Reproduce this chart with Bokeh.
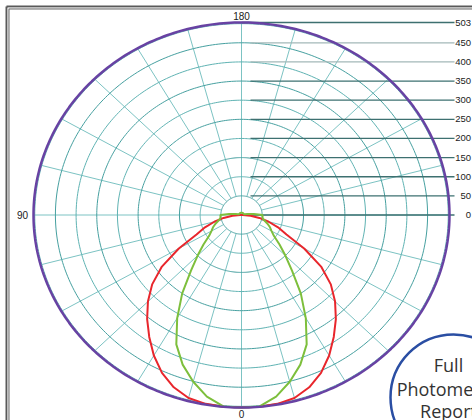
import numpy as np
from bokeh.plotting import figure
from bokeh.models import Range1d
from bokeh.core.properties import value
from bokeh.embed import file_html
from bokeh.resources import INLINE

# ---- data ----
angles_deg = [0, 5, 10, 15, 20, 25, 30, 35, 40, 45, 50, 55, 60, 65, 70, 75, 80, 85, 90,
              95, 100, 105, 110, 115, 120, 125, 130, 135, 140, 145, 150, 155, 160, 165, 170, 175, 180]
red_cd = [503, 503, 501, 495, 479, 455, 424, 389, 355, 320, 282, 235, 175, 120, 94, 68, 44, 22, 3,
          0, 0, 0, 0, 0, 0, 0, 0, 0, 0, 0, 0, 0, 0, 0, 0, 0, 0]
green_cd = [503, 502, 482, 451, 416, 373, 311, 250, 190, 150, 120, 96, 84, 76, 67, 58, 52, 51, 51,
            30, 14, 8, 6, 6, 6, 6, 6, 6, 6, 6, 6, 6, 6, 6, 6, 6, 6]
ring_values = [50, 100, 150, 200, 250, 300, 350, 400, 450, 500]
max_value = 503
scale_ticks = [503, 450, 400, 350, 300, 250, 200, 150, 100, 50, 0]
scale_labels = ["503", "450", "400", "350", "300", "250", "200", "150", "100", "50", "0"]
angle_labels = ["180", "90", "0"]
spoke_step = 15
button_lines = ["Full", "Photometric", "Report"]

# ---- geometry (screen -> data helpers) ----
CX, CY = 241.0, 214.5
KX, KY = 208.0 / max_value, 192.5 / max_value
W, H = 472, 420


def sx(px):
    return (px - CX) / KX


def sy(py):
    return (CY - py) / KY


p = figure(width=W, height=H, output_backend="svg", toolbar_location=None,
           x_range=Range1d(sx(0), sx(W)), y_range=Range1d(sy(H), sy(0)),
           min_border=0, background_fill_color="white", border_fill_color="white")
p.axis.visible = False
p.grid.visible = False
p.outline_line_color = None

# frame (top/left double line)
p.line([sx(6), sx(6)], [sy(H), sy(6)], line_color="#5a5a5a", line_width=2)
p.line([sx(6), sx(W)], [sy(6), sy(6)], line_color="#5a5a5a", line_width=2)
p.line([sx(7.5), sx(7.5)], [sy(H), sy(7.5)], line_color="#d0d0d0", line_width=1)
p.line([sx(7.5), sx(W)], [sy(7.5), sy(7.5)], line_color="#d0d0d0", line_width=1)
p.line([sx(8.5), sx(8.5)], [sy(H), sy(8.5)], line_color="#6a6a6a", line_width=1)
p.line([sx(8.5), sx(W)], [sy(8.5), sy(8.5)], line_color="#6a6a6a", line_width=1)

# spokes
x0s, y0s, x1s, y1s = [], [], [], []
for a in range(0, 360, spoke_step):
    t = np.radians(a)
    r0 = 0 if a % 90 == 0 else ring_values[0]
    x0s.append(r0 * np.sin(t)); y0s.append(-r0 * np.cos(t))
    x1s.append(max_value * np.sin(t)); y1s.append(-max_value * np.cos(t))
p.segment(x0s, y0s, x1s, y1s, line_color="#7cc3c3", line_width=1)

# rings
tt = np.linspace(0, 2 * np.pi, 361)
for i, rv in enumerate(ring_values):
    col = "#46a0a0" if i % 2 == 0 else "#5fb3b3"
    p.line(rv * np.sin(tt), rv * np.cos(tt), line_color=col, line_width=1)

# scale lines on the right
for v in scale_ticks:
    col = "#a3b8b8" if v in (450, 400) else "#3d7070"
    x_start = 0 if v == max_value else sx(250)
    p.line([x_start, sx(454)], [v, v], line_color=col, line_width=1.3)
p.text(x=[sx(470.5)] * len(scale_ticks), y=scale_ticks, text=scale_labels,
       text_font=value("Liberation Sans"), text_font_size="9.5px", text_color="#1a1a1a",
       text_align="right", text_baseline="middle")

# curves (symmetric C planes)
ang = np.array(angles_deg, dtype=float)
full_ang = np.concatenate([-ang[::-1], ang[1:]])


def curve(vals):
    v = np.array(vals, dtype=float)
    full_v = np.concatenate([v[::-1], v[1:]])
    t = np.radians(full_ang)
    return full_v * np.sin(t), -full_v * np.cos(t)


rx, ry = curve(red_cd)
p.line(rx, ry, line_color="#e8262c", line_width=2)
gx, gy = curve(green_cd)
p.line(gx, gy, line_color="#7dbf3c", line_width=2)

# outer ring
p.line(max_value * np.sin(tt), max_value * np.cos(tt), line_color="#6842a3", line_width=2.5)

# angle labels
p.text(x=[0, sx(22), 0], y=[sy(15), 0, sy(413)], text=angle_labels,
       text_font=value("Liberation Sans"), text_font_size="10px", text_color="#1a1a1a",
       text_align="center", text_baseline="middle")

# "Full Photometric Report" button
p.scatter(x=[sx(453)], y=[sy(397)], size=126, marker="circle", fill_color="white",
          line_color="#2a4ea3", line_width=2.5)
p.text(x=[sx(448)] * 3, y=[sy(364), sy(388), sy(410)], text=button_lines,
       text_font=value("Open Sans"), text_font_size="18px", text_color="#333333",
       text_align="center", text_baseline="middle")

open("out.html", "w").write(file_html(p, INLINE))
